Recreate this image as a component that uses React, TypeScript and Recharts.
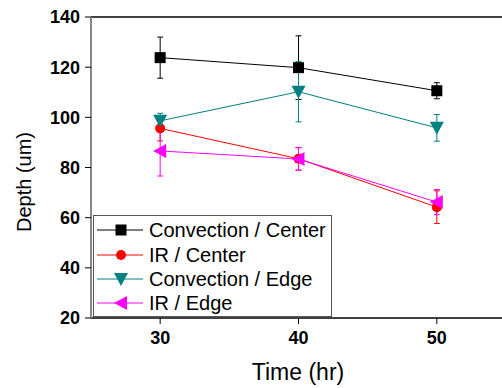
import React from "react";
import {
  LineChart,
  Line,
  XAxis,
  YAxis,
  ErrorBar,
  ReferenceLine,
  Legend,
  Label,
} from "recharts";

const times = [30, 40, 50];
const xTicks = [30, 40, 50];
const yTicks = [20, 40, 60, 80, 100, 120, 140];

const convCenter = [123.8, 119.8, 110.6];
const convCenterErr = [8.2, 12.7, 3.2];
const irCenter = [95.6, 83.5, 64.2];
const irCenterErr = [5, 4.5, 6.5];
const convEdge = [98.6, 110.2, 95.8];
const convEdgeErr = [3, 12, 5.3];
const irEdge = [86.6, 83.4, 66.2];
const irEdgeErr = [10, 4.5, 5];

const FONT = "'Liberation Sans', Arial, sans-serif";

type Shape = "square" | "circle" | "down" | "left";

const series: { key: string; name: string; color: string; shape: Shape }[] = [
  { key: "convCenter", name: "Convection / Center", color: "#000000", shape: "square" },
  { key: "irCenter", name: "IR / Center", color: "#ff0000", shape: "circle" },
  { key: "convEdge", name: "Convection / Edge", color: "#008080", shape: "down" },
  { key: "irEdge", name: "IR / Edge", color: "#ff00ff", shape: "left" },
];

const data = times.map((t, i) => ({
  time: t,
  convCenter: convCenter[i],
  convCenterErr: convCenterErr[i],
  irCenter: irCenter[i],
  irCenterErr: irCenterErr[i],
  convEdge: convEdge[i],
  convEdgeErr: convEdgeErr[i],
  irEdge: irEdge[i],
  irEdgeErr: irEdgeErr[i],
}));

function marker(shape: Shape, color: string, cx: number, cy: number, key?: string | number) {
  if (shape === "square")
    return <rect key={key} x={cx - 5.5} y={cy - 5.5} width={11} height={11} fill={color} />;
  if (shape === "circle") return <circle key={key} cx={cx} cy={cy} r={5} fill={color} />;
  if (shape === "down")
    return (
      <polygon
        key={key}
        points={`${cx - 7},${cy - 6} ${cx + 7},${cy - 6} ${cx},${cy + 7}`}
        fill={color}
      />
    );
  return (
    <polygon
      key={key}
      points={`${cx - 7},${cy} ${cx + 6},${cy - 7} ${cx + 6},${cy + 7}`}
      fill={color}
    />
  );
}

const renderLegend = () => (
  <div
    style={{
      border: "1px solid #555",
      width: 237,
      height: 98,
      paddingTop: 2,
      background: "#fff",
      fontFamily: FONT,
    }}
  >
    {series.map((s) => (
      <div key={s.key} style={{ display: "flex", alignItems: "center", height: 24.4 }}>
        <svg width={52} height={24} style={{ marginLeft: 3 }}>
          <line x1={0} y1={12} x2={46} y2={12} stroke={s.color} strokeWidth={1} />
          {marker(s.shape, s.color, 24, 12)}
        </svg>
        <span style={{ fontSize: 20, color: "#000", lineHeight: "24px" }}>{s.name}</span>
      </div>
    ))}
  </div>
);

const YTitle = () => (
  <text
    transform="translate(31,182) rotate(-90)"
    textAnchor="middle"
    fontSize={20}
    fontFamily={FONT}
    fill="#000"
  >
    Depth (um)
  </text>
);

const XTitle = () => (
  <text x={298} y={380} textAnchor="middle" fontSize={23} fontFamily={FONT} fill="#000">
    Time (hr)
  </text>
);

export default function App() {
  return (
    <div
      style={{
        position: "absolute",
        left: 0,
        top: 0,
        width: 502,
        height: 388,
        overflow: "hidden",
        background: "#fff",
      }}
    >
      <LineChart
        width={512}
        height={388}
        data={data}
        margin={{ top: 17, right: 6, bottom: 0, left: 0 }}
      >
        <XAxis
          dataKey="time"
          type="number"
          domain={[25, 55]}
          ticks={xTicks}
          allowDataOverflow
          height={70}
          tickSize={6}
          tickMargin={7}
          axisLine={{ stroke: "#000", strokeWidth: 1.5 }}
          tickLine={{ stroke: "#000" }}
          tick={{ fill: "#000", fontSize: 18, fontWeight: "bold", fontFamily: FONT }}
        >
          <Label content={<XTitle />} />
        </XAxis>
        <YAxis
          type="number"
          domain={[20, 140]}
          ticks={yTicks}
          allowDataOverflow
          width={91}
          tickSize={6}
          tickMargin={5}
          axisLine={{ stroke: "#888", strokeWidth: 2 }}
          tickLine={{ stroke: "#000" }}
          tick={{ fill: "#000", fontSize: 18, fontWeight: "bold", fontFamily: FONT }}
        >
          <Label content={<YTitle />} />
        </YAxis>
        <ReferenceLine y={140} stroke="#000" strokeWidth={1.5} />
        {series.map((s) => (
          <Line
            key={s.key}
            dataKey={s.key}
            name={s.name}
            stroke={s.color}
            strokeWidth={1}
            isAnimationActive={false}
            dot={(p: any) => marker(s.shape, s.color, p.cx, p.cy, `${s.key}-${p.index}`)}
            activeDot={false}
          >
            <ErrorBar
              dataKey={`${s.key}Err`}
              width={3}
              stroke={s.color}
              strokeWidth={1}
              direction="y"
            />
          </Line>
        ))}
        <Legend
          layout="vertical"
          align="center"
          verticalAlign="middle"
          content={renderLegend}
          wrapperStyle={{ left: 93, top: 215, width: 239, height: 100 }}
        />
      </LineChart>
    </div>
  );
}
